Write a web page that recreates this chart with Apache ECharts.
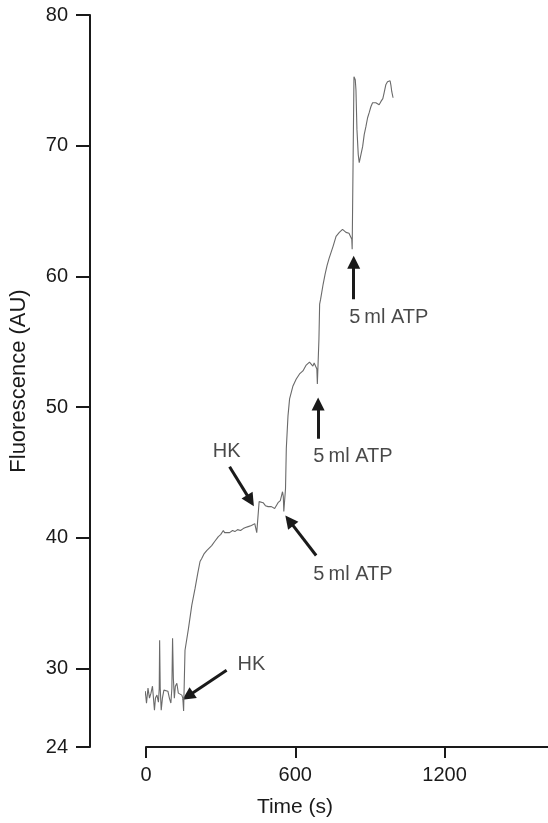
<!DOCTYPE html>
<html><head><meta charset="utf-8">
<script src="https://cdn.jsdelivr.net/npm/echarts@6/dist/echarts.min.js"></script>
<style>html,body{margin:0;padding:0;background:#fff}#c{width:548px;height:823px}</style>
</head><body><div id="c"></div>
<script>
// Trace (time in s, fluorescence in AU)
const timeS = [-12,-8,-2.8,2,8,14,20,26,30,34,38,44,50,53.2,54.8,57.2,61.2,66,72,80,88,94,100,104,106.8,110,114,118,124,130,136,144,148,151.2,154.4,156.8,170.8,184,197.2,208,217.2,224,234,244,264,276,290.8,300,310.8,316,324,336,348,357.2,368,380,390.8,400,410.8,424,437.2,442.8,445.2,452,454.8,460,470.8,480,490.8,504,517.2,530.8,540,546,548.8,552,554,559.2,560.8,564,570.8,577.2,590.8,604,617.2,630.8,644,652,657.2,664,670.8,676,680,686.8,688.8,693.2,695.2,698,702,706,712,720,728,736,744,752,764,772,777.2,784,790,797.2,804,810.8,816,824,827.2,828.8,833.2,836,841.2,844,848,853.2,857.2,864,870.8,877.2,884,890.8,897.2,904,910.8,917.2,924,930.8,937.2,944,946.8,952,957.2,964,970.8,976,981.2,984.8,988,990.8,993.2];
const fluorescence = [27.13,27.74,28.27,27.36,28.50,27.74,28.12,28.65,27.74,26.82,27.74,27.97,27.43,28.50,32.16,28.50,26.82,27.74,28.35,28.50,28.27,27.74,27.36,28.50,32.32,29.26,27.74,28.65,28.88,28.12,28.20,27.97,27.74,26.75,26.75,31.40,33.08,34.83,36.13,37.28,38.19,38.42,38.80,39.03,39.41,39.72,40.10,40.25,40.56,40.40,40.33,40.40,40.56,40.48,40.63,40.56,40.71,40.79,40.86,40.94,41.09,41.17,40.40,40.40,42.77,42.77,42.69,42.46,42.39,42.39,42.24,42.69,42.85,43.00,43.53,43.15,42.01,42.01,43.76,46.81,49.33,50.63,51.62,52.15,52.54,52.77,53.22,53.37,53.45,53.30,53.14,53.37,53.30,52.92,51.77,51.77,55.21,57.88,58.26,58.41,59.40,60.17,60.85,61.38,61.84,62.30,63.07,63.22,63.37,63.30,63.60,63.52,63.37,63.45,63.30,63.22,62.84,62.08,62.08,75.27,75.04,74.28,71.23,69.32,68.71,69.32,69.93,70.85,71.46,72.14,72.53,72.98,73.29,73.21,73.29,73.21,73.14,73.37,73.29,73.60,74.05,74.66,74.89,75.04,74.97,74.59,74.13,74.21,73.67];

// Axis ticks
const xTicks = [0, 600, 1200];
const yTicks = [24, 30, 40, 50, 60, 70, 80];

// Annotations (data coordinates)
const annoText = ['HK', 'HK', '5\u2009ml ATP', '5\u2009ml ATP', '5\u2009ml ATP'];
const annoTextT = [424, 324, 832, 832, 976];
const annoTextV = [30.33, 46.58, 37.20, 46.20, 56.88];
const arrowTailT = [324, 336, 684, 692, 834.8];
const arrowTailV = [29.87, 45.44, 38.65, 47.58, 58.26];
const arrowTipT = [168, 420, 576, 692, 834.8];
const arrowTipV = [27.89, 42.85, 41.32, 50.25, 61.08];

const FONT = '"Liberation Sans", Arial, Helvetica, sans-serif';
const INK = '#1a1a1a';

const chart = echarts.init(document.getElementById('c'), null, {renderer: 'canvas'});
chart.setOption({
  animation: false,
  backgroundColor: '#fff',
  grid: {left: 144, right: 0, top: 15, bottom: 74, containLabel: false},
  xAxis: {
    type: 'value', min: 0, max: 1616,
    name: 'Time (s)', nameLocation: 'middle', nameGap: 50,
    nameTextStyle: {fontFamily: FONT, fontSize: 21, color: INK, padding: [0, 104, 0, 0]},
    axisLine: {show: true, onZero: false, lineStyle: {color: INK, width: 2}},
    axisTick: {show: true, length: 11, lineStyle: {color: INK, width: 2}, customValues: xTicks},
    axisLabel: {fontFamily: FONT, fontSize: 20, color: INK, margin: 18, customValues: xTicks,
      formatter: v => String(v)},
    splitLine: {show: false}
  },
  yAxis: {
    type: 'value', min: 24, max: 80, offset: 56,
    name: 'Fluorescence (AU)', nameLocation: 'middle', nameGap: 60,
    nameTextStyle: {fontFamily: FONT, fontSize: 22, color: INK},
    axisLine: {show: true, onZero: false, lineStyle: {color: INK, width: 2}},
    axisTick: {show: true, length: 14, lineStyle: {color: INK, width: 2}, customValues: yTicks},
    axisLabel: {fontFamily: FONT, fontSize: 20, color: INK, margin: 22, customValues: yTicks,
      formatter: v => String(v)},
    splitLine: {show: false}
  },
  series: [
    {
      type: 'line', clip: false, symbol: 'none', smooth: false,
      data: timeS.map((t, i) => [t, fluorescence[i]]),
      lineStyle: {color: '#6a6a6a', width: 1.1}
    },
    {
      type: 'lines', coordinateSystem: 'cartesian2d', silent: true,
      symbol: ['none', 'triangle'], symbolSize: [0, 13],
      lineStyle: {color: INK, width: 3, opacity: 1},
      data: arrowTailT.map((t, i) => ({coords: [[t, arrowTailV[i]], [arrowTipT[i], arrowTipV[i]]]}))
    },
    {
      type: 'scatter', silent: true, symbolSize: 0,
      data: annoText.map((s, i) => ({name: s, value: [annoTextT[i], annoTextV[i]]})),
      label: {show: true, position: 'inside', formatter: '{b}', fontFamily: FONT, fontSize: 20, color: INK}
    }
  ]
});
</script>
</body></html>
